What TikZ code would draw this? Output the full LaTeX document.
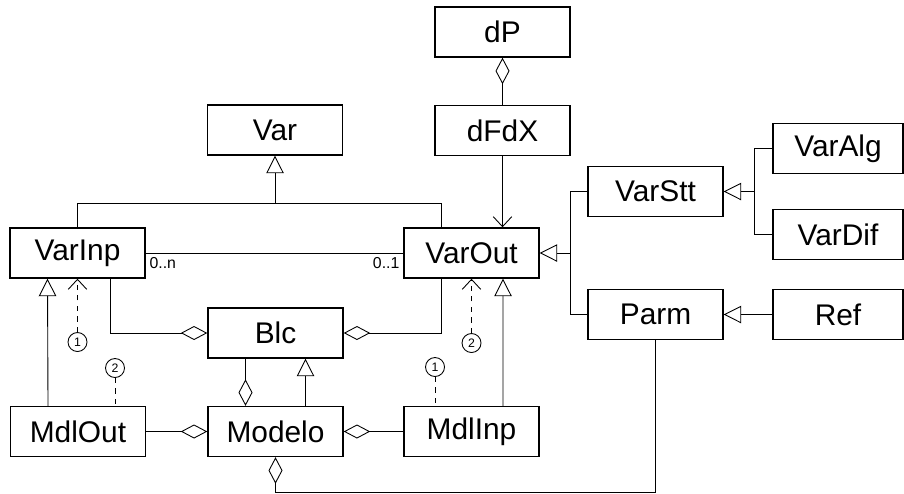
\documentclass[tikz,border=0pt]{standalone}
\usepackage{fontspec}
\setmainfont{Liberation Sans}
\usepackage{tikz}
\usetikzlibrary{arrows.meta,positioning,shapes}

\begin{document}
\begin{tikzpicture}[
    on grid,
    font=\fontsize{17}{20}\selectfont,
    box/.style={rectangle, draw, line width=0.8pt, minimum width=2.7cm, minimum height=1cm, inner sep=0pt},
    leaf/.style={box, minimum width=2.6cm},
    num/.style={circle, draw, line width=0.5pt, minimum size=0.38cm, inner sep=0pt, font=\fontsize{7}{7}\selectfont},
    mult/.style={font=\fontsize{9}{10}\selectfont, inner sep=2pt},
    link/.style={line width=0.5pt},
    inherit/.style={link, -{Triangle[open, length=0.35cm, width=0.35cm]}},
    aggr/.style={link, -{Diamond[open, length=0.53cm, width=0.28cm]}},
    assoc/.style={link, -{Straight Barb[length=0.2cm, width=0.37cm]}},
    dep/.style={assoc, dashed}
]
\useasboundingbox (0,0) rectangle (18.08,-9.86);

\node [box] (varinp) at (1.55,-5.06) {VarInp};
\node [box, above right=2.46cm and 3.95cm of varinp] (var) {Var};
\node [box, right=7.88cm of varinp] (varout) {VarOut};
\node [box, below right=1.6cm and 3.96cm of varinp] (blc) {Blc};
\node [box, below=1.97cm of blc] (modelo) {Modelo};
\node [box, left=3.95cm of modelo] (mdlout) {MdlOut};
\node [box, right=3.92cm of modelo] (mdlinp) {MdlInp};
\node [box, above right=2.45cm and 0.62cm of varout] (dfdx) {dFdX};
\node [box, above=1.97cm of dfdx] (dp) {dP};
\node [box, above right=1.23cm and 3.68cm of varout] (varstt) {VarStt};
\node [box, below=2.46cm of varstt] (parm) {Parm};
\node [leaf, above right=0.86cm and 3.65cm of varstt] (varalg) {VarAlg};
\node [leaf, below=1.72cm of varalg] (vardif) {VarDif};
\node [leaf, right=3.65cm of parm] (ref) {Ref};

\node [num, below=1.78cm of varinp] (inA) {1};
\node [num, below right=2.3cm and 0.75cm of varinp] (outA) {2};
\node [num, below left=2.28cm and 0.73cm of varout] (inB) {1};
\node [num, below=1.8cm of varout] (outB) {2};

% junctions of the inheritance trees
\coordinate [above=0.48cm of varinp.north] (vbus);
\coordinate [right=0.62cm of varout.east] (obus);
\coordinate [right=0.62cm of varstt.east] (sbus);
\coordinate [below=3.04cm of parm.south] (pbot);

\draw [aggr] (dfdx) -- (dp);
\draw [assoc] (dfdx) -- (dfdx |- varout.north);

\draw [link] (varinp.north) -- (vbus) -| ([xshift=-0.6cm]varout.north);
\draw [inherit] (vbus -| var.south) -- (var.south);

\draw [link] (varinp) -- (varout)
    node [mult, pos=0, below right] {0..n}
    node [mult, pos=1, below left] {0..1};

\draw [aggr] ([xshift=0.65cm]varinp.south) |- (blc.west);
\draw [aggr] ([xshift=-0.6cm]varout.south) |- (blc.east);

\draw [inherit] ([xshift=-0.6cm]mdlout.north) -- ([xshift=-0.6cm]varinp.south);
\draw [dep] (inA) -- (inA |- varinp.south);
\draw [link, dashed] (outA) -- (outA |- mdlout.north);

\draw [aggr] ([xshift=-0.6cm]blc.south) -- ([xshift=-0.6cm]modelo.north);
\draw [inherit] ([xshift=0.6cm]modelo.north) -- ([xshift=0.6cm]blc.south);
\draw [aggr] (mdlout) -- (modelo);
\draw [aggr] (mdlinp) -- (modelo);
\draw [aggr] (parm.south) -- (pbot) -| (modelo.south);

\draw [link, dashed] (inB) -- (inB |- mdlinp.north);
\draw [dep] (outB) -- (outB |- varout.south);
\draw [inherit] ([xshift=0.63cm]mdlinp.north) -- ([xshift=0.63cm]varout.south);

\draw [inherit] (obus) -- (varout.east);
\draw [link] (varstt.west) -| (obus);
\draw [link] (parm.west) -| (obus);

\draw [inherit] (sbus) -- (varstt.east);
\draw [link] (varalg.west) -| (sbus);
\draw [link] (vardif.west) -| (sbus);
\draw [inherit] (ref) -- (parm);

\end{tikzpicture}
\end{document}
